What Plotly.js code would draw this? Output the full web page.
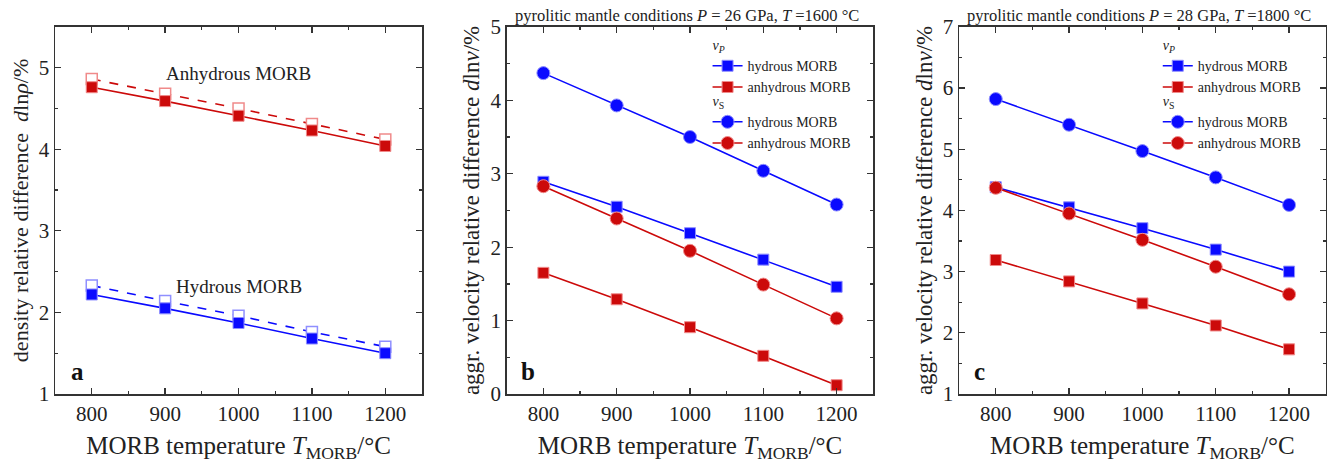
<!DOCTYPE html>
<html>
<head>
<meta charset="utf-8">
<script src="https://cdn.plot.ly/plotly-3.0.1.min.js"></script>
<style>html,body{margin:0;padding:0;background:#fff}#chart{width:1330px;height:463px}</style>
</head>
<body>
<div id="chart"></div>
<script>
// ---------- data ----------
const temps = [800, 900, 1000, 1100, 1200];

// panel a: density relative difference dlnρ (%)
const rhoAnhydrousSolid = [4.76, 4.59, 4.41, 4.23, 4.04];
const rhoAnhydrousOpen  = [4.86, 4.68, 4.50, 4.31, 4.12];
const rhoHydrousSolid   = [2.22, 2.05, 1.87, 1.68, 1.50];
const rhoHydrousOpen    = [2.33, 2.14, 1.96, 1.76, 1.58];

// panel b: P = 26 GPa, T = 1600 °C
const b_vpHydrous   = [2.89, 2.55, 2.19, 1.83, 1.46];
const b_vpAnhydrous = [1.65, 1.29, 0.91, 0.52, 0.12];
const b_vsHydrous   = [4.37, 3.93, 3.50, 3.04, 2.58];
const b_vsAnhydrous = [2.83, 2.39, 1.95, 1.49, 1.03];

// panel c: P = 28 GPa, T = 1800 °C
const c_vpHydrous   = [4.38, 4.05, 3.71, 3.36, 3.00];
const c_vpAnhydrous = [3.19, 2.84, 2.48, 2.12, 1.73];
const c_vsHydrous   = [5.82, 5.40, 4.97, 4.54, 4.09];
const c_vsAnhydrous = [4.37, 3.95, 3.52, 3.08, 2.63];

const xTickVals = [800, 900, 1000, 1100, 1200];

// ---------- styles ----------
const BLUE = '#0a0aff', RED = '#cc0a0a';
const BLUE_L = '#8f8fff', RED_L = '#f08a8a';
const FONT = 'Liberation Serif, DejaVu Serif, serif';

function sq(color, edge) { return {symbol: 'square', size: 11, color: color, line: {color: edge, width: 1}}; }
function ci(color, edge) { return {symbol: 'circle', size: 13, color: color, line: {color: edge, width: 1}}; }

const traces = [
  // panel a
  {x: temps, y: rhoAnhydrousOpen, xaxis: 'x', yaxis: 'y', mode: 'lines+markers', showlegend: false,
   line: {color: RED, width: 1.6, dash: 'dash'}, marker: {symbol: 'square', size: 11, color: '#fff', line: {color: RED_L, width: 1.5}}},
  {x: temps, y: rhoHydrousOpen, xaxis: 'x', yaxis: 'y', mode: 'lines+markers', showlegend: false,
   line: {color: BLUE, width: 1.6, dash: 'dash'}, marker: {symbol: 'square', size: 11, color: '#fff', line: {color: BLUE_L, width: 1.5}}},
  {x: temps, y: rhoAnhydrousSolid, xaxis: 'x', yaxis: 'y', mode: 'lines+markers', showlegend: false,
   line: {color: RED, width: 1.6}, marker: sq(RED, RED_L)},
  {x: temps, y: rhoHydrousSolid, xaxis: 'x', yaxis: 'y', mode: 'lines+markers', showlegend: false,
   line: {color: BLUE, width: 1.6}, marker: sq(BLUE, BLUE_L)},
];

const LEG = 14;
function addVel(xa, ya, legP, legS, vpH, vpA, vsH, vsA) {
  traces.push(
    {x: temps, y: vpH, xaxis: xa, yaxis: ya, mode: 'lines+markers', name: 'hydrous MORB', legend: legP,
     legendgroup: 'vp' + legP, legendgrouptitle: {text: '<i>v</i><sub><i>P</i></sub>', font: {family: FONT, size: LEG, color: '#222'}},
     line: {color: BLUE, width: 1.6}, marker: sq(BLUE, BLUE_L)},
    {x: temps, y: vpA, xaxis: xa, yaxis: ya, mode: 'lines+markers', name: 'anhydrous MORB', legend: legP,
     legendgroup: 'vp' + legP,
     line: {color: RED, width: 1.6}, marker: sq(RED, RED_L)},
    {x: temps, y: vsH, xaxis: xa, yaxis: ya, mode: 'lines+markers', name: 'hydrous MORB', legend: legS,
     legendgroup: 'vs' + legS, legendgrouptitle: {text: '<i>v</i><sub>S</sub>', font: {family: FONT, size: LEG, color: '#222'}},
     line: {color: BLUE, width: 1.6}, marker: ci(BLUE, BLUE_L)},
    {x: temps, y: vsA, xaxis: xa, yaxis: ya, mode: 'lines+markers', name: 'anhydrous MORB', legend: legS,
     legendgroup: 'vs' + legS,
     line: {color: RED, width: 1.6}, marker: ci(RED, RED_L)}
  );
}
addVel('x2', 'y2', 'legend', 'legend2', b_vpHydrous, b_vpAnhydrous, b_vsHydrous, b_vsAnhydrous);
addVel('x3', 'y3', 'legend3', 'legend4', c_vpHydrous, c_vpAnhydrous, c_vsHydrous, c_vsAnhydrous);

function xax(dom, anchor) {
  return {domain: dom, anchor: anchor, range: [750, 1250], tickvals: xTickVals, ticks: 'inside', ticklen: 6,
    tickwidth: 1.3, tickcolor: '#333', showline: true, linecolor: '#333', linewidth: 1.5, mirror: 'allticks',
    showgrid: false, zeroline: false, tickfont: {family: FONT, size: 21, color: '#222'},
    minor: {dtick: 50, tick0: 750, ticks: 'inside', ticklen: 3, tickcolor: '#333', showgrid: false},
    title: {text: 'MORB temperature <i>T</i><sub>MORB</sub>/°C', font: {family: FONT, size: 25, color: '#222'}, standoff: 12}};
}
function yax(dom, anchor, rng, title, sz) {
  return {domain: dom, anchor: anchor, range: rng, dtick: 1, ticks: 'inside', ticklen: 6,
    tickwidth: 1.3, tickcolor: '#333', showline: true, linecolor: '#333', linewidth: 1.5, mirror: 'allticks',
    showgrid: false, zeroline: false, tickfont: {family: FONT, size: 21, color: '#222'},
    minor: {dtick: 0.5, ticks: 'inside', ticklen: 3, tickcolor: '#333', showgrid: false},
    title: {text: title, font: {family: FONT, size: sz, color: '#222'}, standoff: 4}};
}
const yDom = [0.149, 0.942];
const legFont = {family: FONT, size: LEG, color: '#222'};
function legBox(x, y) {
  return {x: x, y: y, xanchor: 'left', yanchor: 'top', bgcolor: 'rgba(0,0,0,0)', font: legFont,
    traceorder: 'grouped', tracegroupgap: 0, itemwidth: 30};
}

const layout = {
  width: 1330, height: 463,
  margin: {l: 0, r: 0, t: 0, b: 0},
  paper_bgcolor: '#fff', plot_bgcolor: '#fff',
  font: {family: FONT, color: '#222'},
  xaxis: xax([0.0414, 0.3173], 'y'),
  yaxis: yax(yDom, 'x', [1, 5.5], 'density relative difference  <i>d</i>ln<i>ρ</i>/%', 22),
  xaxis2: xax([0.381, 0.6566], 'y2'),
  yaxis2: yax(yDom, 'x2', [0, 5], 'aggr. velocity relative difference <i>d</i>ln<i>v</i>/%', 23),
  xaxis3: xax([0.7211, 0.9968], 'y3'),
  yaxis3: yax(yDom, 'x3', [1, 7], 'aggr. velocity relative difference <i>d</i>ln<i>v</i>/%', 23),
  legend: legBox(0.532, 0.9374),
  legend2: legBox(0.532, 0.8164),
  legend3: legBox(0.8705, 0.9374),
  legend4: legBox(0.8705, 0.8164),
  annotations: [
    {xref: 'x', yref: 'y', x: 1000, y: 4.93, text: 'Anhydrous MORB', showarrow: false, xanchor: 'center', yanchor: 'middle',
     font: {family: FONT, size: 19, color: '#222'}},
    {xref: 'x', yref: 'y', x: 1000, y: 2.32, text: 'Hydrous MORB', showarrow: false, xanchor: 'center', yanchor: 'middle',
     font: {family: FONT, size: 19, color: '#222'}},
    {xref: 'paper', yref: 'paper', x: 0.0579, y: 0.197, text: '<b>a</b>', showarrow: false, xanchor: 'center', yanchor: 'middle',
     font: {family: FONT, size: 25, color: '#111'}},
    {xref: 'paper', yref: 'paper', x: 0.397, y: 0.197, text: '<b>b</b>', showarrow: false, xanchor: 'center', yanchor: 'middle',
     font: {family: FONT, size: 25, color: '#111'}},
    {xref: 'paper', yref: 'paper', x: 0.7368, y: 0.197, text: '<b>c</b>', showarrow: false, xanchor: 'center', yanchor: 'middle',
     font: {family: FONT, size: 25, color: '#111'}},
    {xref: 'paper', yref: 'paper', x: 0.5165, y: 0.9676, xanchor: 'center', yanchor: 'middle', showarrow: false,
     text: 'pyrolitic mantle conditions <i>P</i> = 26 GPa, <i>T</i> =1600 °C', font: {family: FONT, size: 16.5, color: '#222'}},
    {xref: 'paper', yref: 'paper', x: 0.8563, y: 0.9676, xanchor: 'center', yanchor: 'middle', showarrow: false,
     text: 'pyrolitic mantle conditions <i>P</i> = 28 GPa, <i>T</i> =1800 °C', font: {family: FONT, size: 16.5, color: '#222'}}
  ]
};

Plotly.newPlot('chart', traces, layout, {staticPlot: true, displayModeBar: false});
</script>
</body>
</html>
